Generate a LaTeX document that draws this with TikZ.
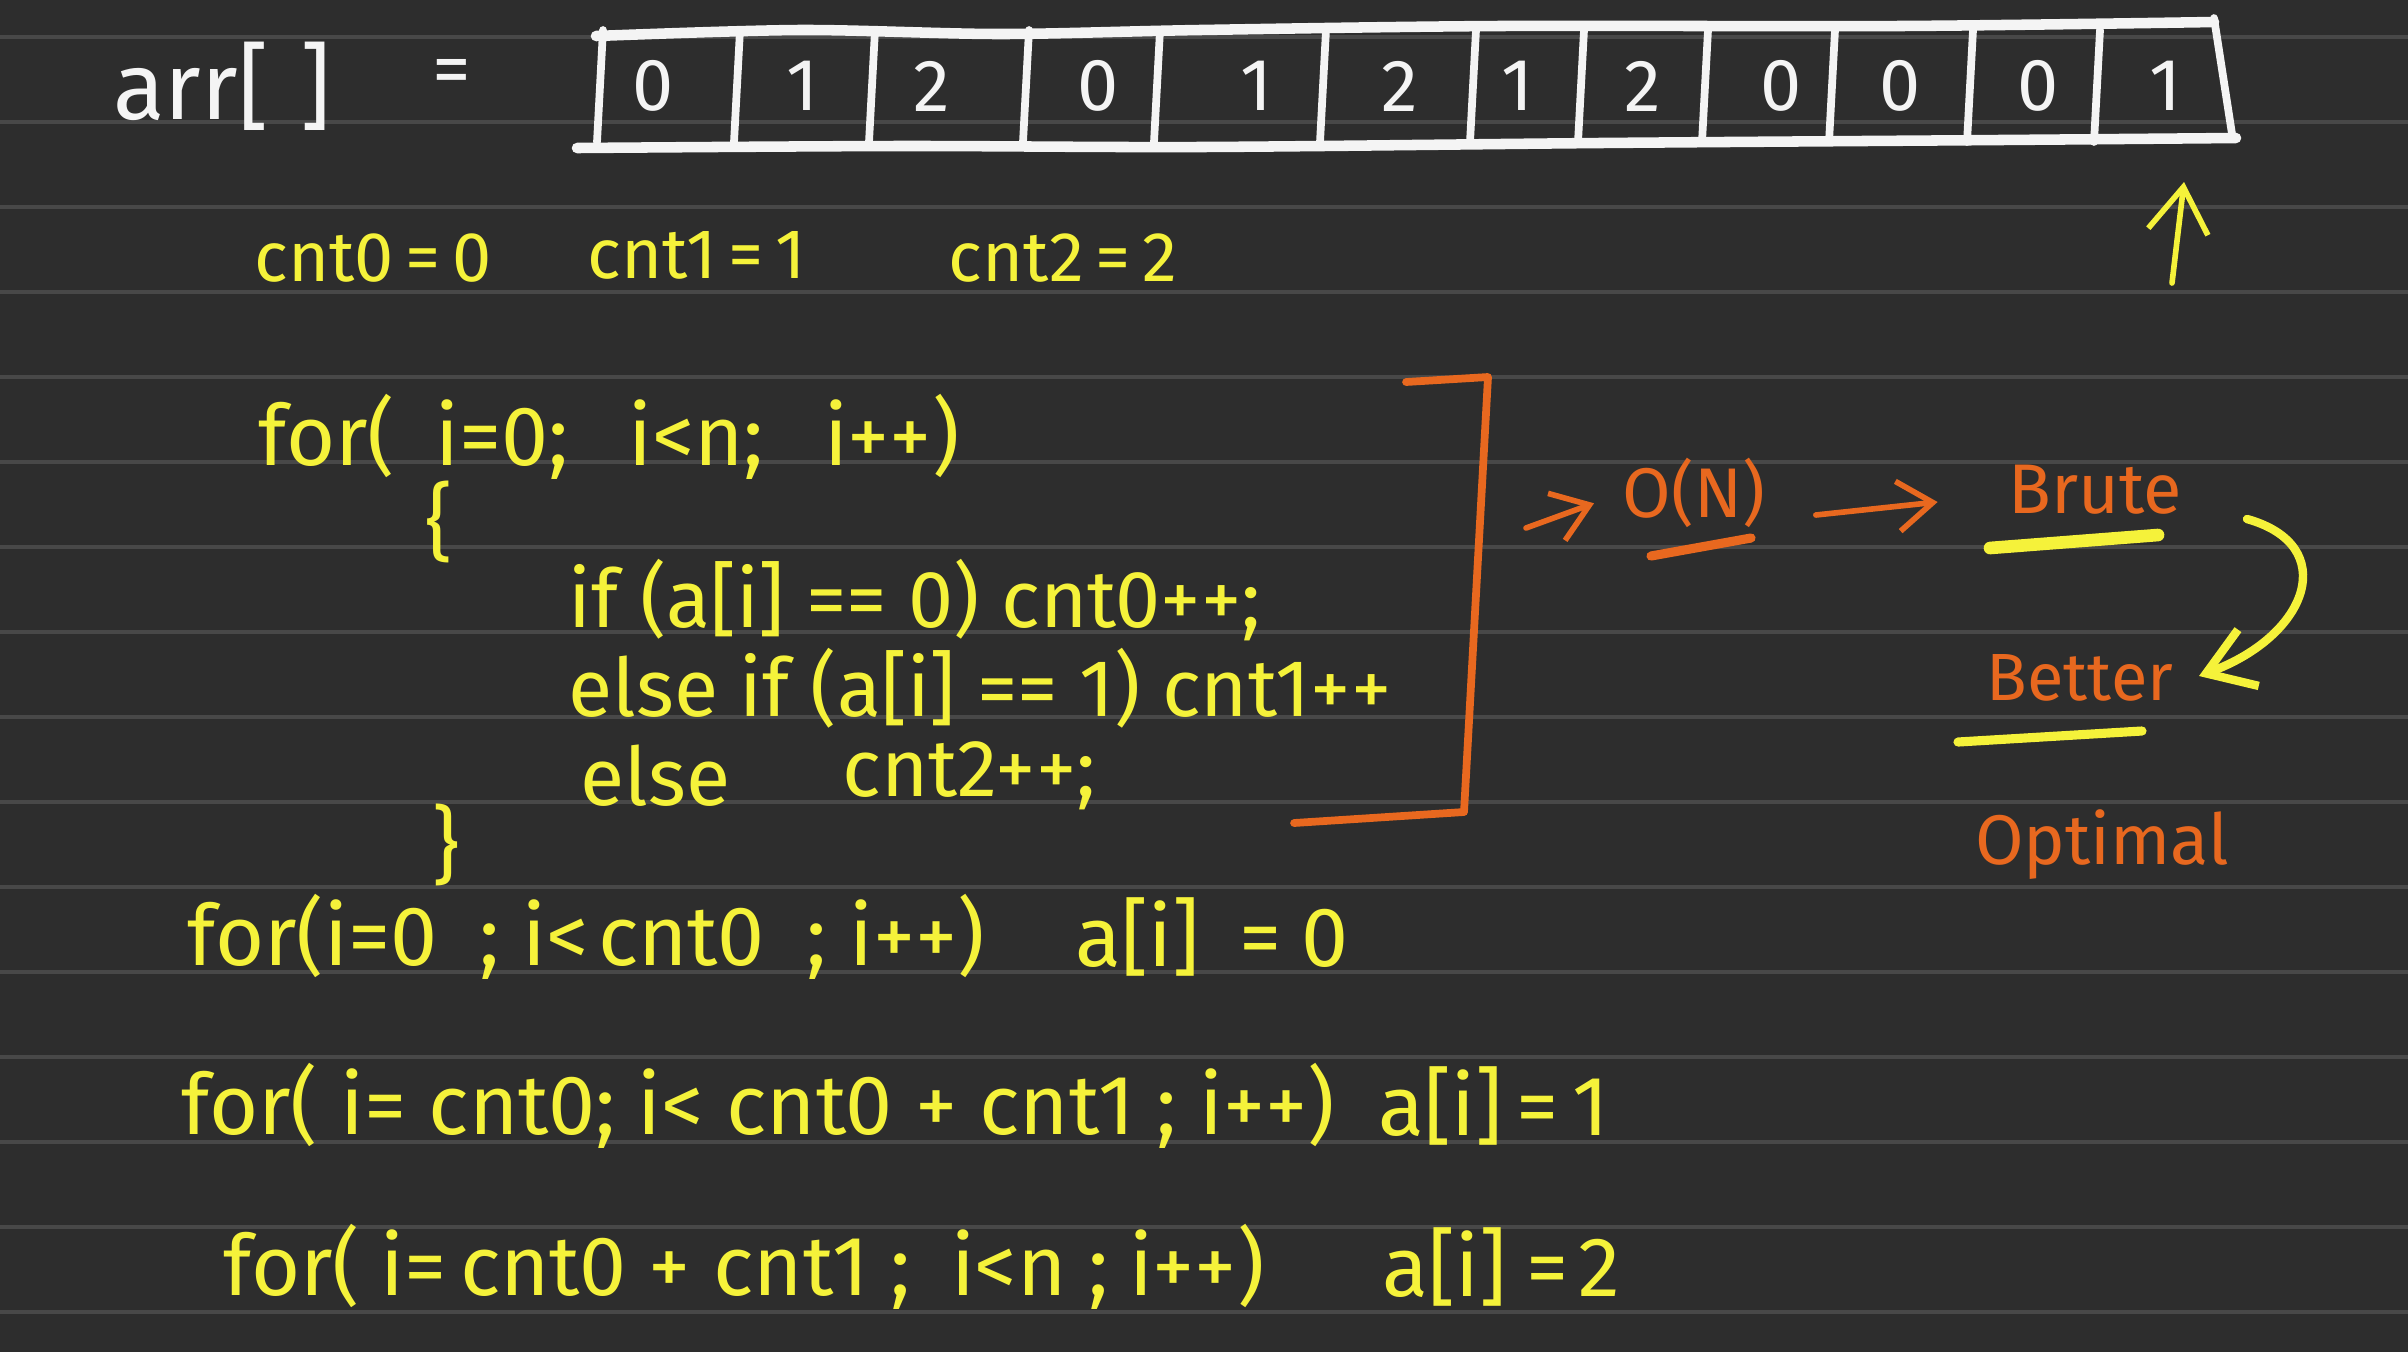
\documentclass[tikz,border=0pt]{standalone}
\usepackage{fontspec}
\setmainfont{Fira Sans}
\usetikzlibrary{arrows.meta,positioning}
\definecolor{board}{HTML}{2D2D2D}
\definecolor{ruling}{HTML}{484848}
\definecolor{chalk}{HTML}{F4F4F4}
\definecolor{marker}{HTML}{F5F23A}
\definecolor{ink}{HTML}{E8681F}

\begin{document}
\begin{tikzpicture}[x=0.1mm,y=-0.1mm]
\tikzset{
  chalktext/.style={text=chalk,font=\fontsize{27}{31}\selectfont,inner sep=0pt},
  cellval/.style={text=chalk,font=\fontsize{21}{25}\selectfont,inner sep=0pt},
  countvar/.style={text=marker,font=\fontsize{20}{24}\selectfont,inner sep=0pt},
  code/.style={text=marker,font=\fontsize{24}{28}\selectfont,inner sep=0pt,anchor=west},
  body/.style={code,font=\fontsize{23}{27}\selectfont},
  note/.style={text=ink,font=\fontsize{20}{24}\selectfont,inner sep=0pt},
  arrline/.style={chalk,line width=2.2pt,line cap=round,line join=round},
  yarrow/.style={marker,line width=1.6pt,line cap=round,-{Straight Barb[length=4.5mm,width=6mm]}},
  oarrow/.style={ink,line width=1.6pt,line cap=round,-{Straight Barb[length=3.5mm,width=5mm]}},
  underline/.style={line width=2.6pt,line cap=round}
}
% board and ruling
\fill[board] (0,0) rectangle (2408,1352);
\useasboundingbox (0,0) rectangle (2408,1352);
\foreach \ry in {0,...,15}
  \draw[ruling,line width=0.9pt] (0,37+85*\ry) -- (2408,37+85*\ry);

% array
\node[chalktext] (arrname) at (222,86) {arr[\,\,]};
\node[chalktext,font=\fontsize{22}{26}\selectfont] (eqsign) at (452,77) {=};
\draw[arrline,line width=3pt] plot[smooth] coordinates {(596,36) (800,30) (1000,34) (1200,30) (1500,26) (1900,26) (2214,22)};
\draw[arrline,line width=3pt] plot[smooth] coordinates {(577,148) (900,146) (1200,147) (1600,143) (2000,140) (2236,138)};
\draw[arrline] (2214,18) -- (2232,134);
\foreach \sx in {600,737,872,1026,1157,1323,1473,1581,1705,1832,1970,2097}
  \draw[arrline] (\sx+3,30) -- (\sx-3,142);
\foreach \cx/\cv [count=\ci] in {653/0,802/1,932/2,1098/0,1256/1,1400/2,1517/1,1643/2,1781/0,1900/0,2038/0,2165/1}
  \node[cellval] (c\ci) at (\cx,86) {\cv};
\coordinate (ptrtail) at (2172,283);
\coordinate (ptrtip) at (2184,182);
\draw[yarrow] (ptrtail) -- (ptrtip);

% counters
\node[countvar] (cnta) at (373,258) {cnt0\,=\,0};
\node[countvar] (cntb) at (697,255) {cnt1\,=\,1};
\node[countvar] (cntc) at (1063,258) {cnt2\,=\,2};

% counting loop
\node[code] (loopa) at (258,437) {for(\hspace{4mm}i=0;\hspace{6mm}i<n;\hspace{6mm}i++)};
\node[code] (openb) at (425,522) {\{};
\node[body] (ifa) at (568,600) {if (a[i] == 0) cnt0++;};
\node[body] (ifb) at (568,688) {else if (a[i] == 1) cnt1++};
\node[body] (ifc) at (580,776) {else};
\node[body] (incc) at (842,776) {cnt2++;};
\node[code] (closeb) at (432,845) {\}};
\draw[ink,line width=2.2pt,line cap=round,line join=round]
  (1406,382) -- (1488,377) -- (1464,812) -- (1294,823);

% complexity notes
\coordinate (brkout) at (1526,528);
\node[note] (bigo) at (1694,493) {O(N)};
\draw[oarrow,shorten >=3mm] (brkout) -- (bigo.west);
\draw[ink,underline] (1651,556) -- (1751,538);
\node[note] (brute) at (2095,490) {Brute};
\draw[oarrow] ([xshift=5mm,yshift=-2.2mm]bigo.east) -- ([xshift=-7mm,yshift=-1.2mm]brute.west);
\draw[marker,line width=3.6pt,line cap=round] (1990,548) -- (2158,535);
\node[note,font=\fontsize{19}{23}\selectfont] (better) at (2080,678) {Better};
\draw[marker,underline] (1958,742) -- (2142,731);
\node[note] (optimal) at (2102,845) {Optimal};
\draw[yarrow,line width=2.4pt] (2247,519) .. controls (2340,545) and (2310,635) .. (2199,676);

% filling loops
\node[code] (fillaloop) at (187,937) {for(i=0\hspace{2mm} ; i<\hspace{1mm}cnt0\hspace{2mm} ; i++)};
\node[code] (fillaset) at (1075,937) {a[i]\hspace{4mm}=\hspace{2mm}0};
\node[code] (fillbloop) at (181,1106) {for( i= cnt0; i< cnt0 + cnt1 ; i++)};
\node[code] (fillbset) at (1378,1106) {a[i]\,=\,1};
\node[code] (fillcloop) at (223,1267) {for(\hspace{2mm}i=\,cnt0 + cnt1 ;\hspace{4mm}i<n ;\hspace{2mm}i++)};
\node[code] (fillcset) at (1382,1267) {a[i]\hspace{2mm}=\hspace{1mm}2};
\end{tikzpicture}
\end{document}
